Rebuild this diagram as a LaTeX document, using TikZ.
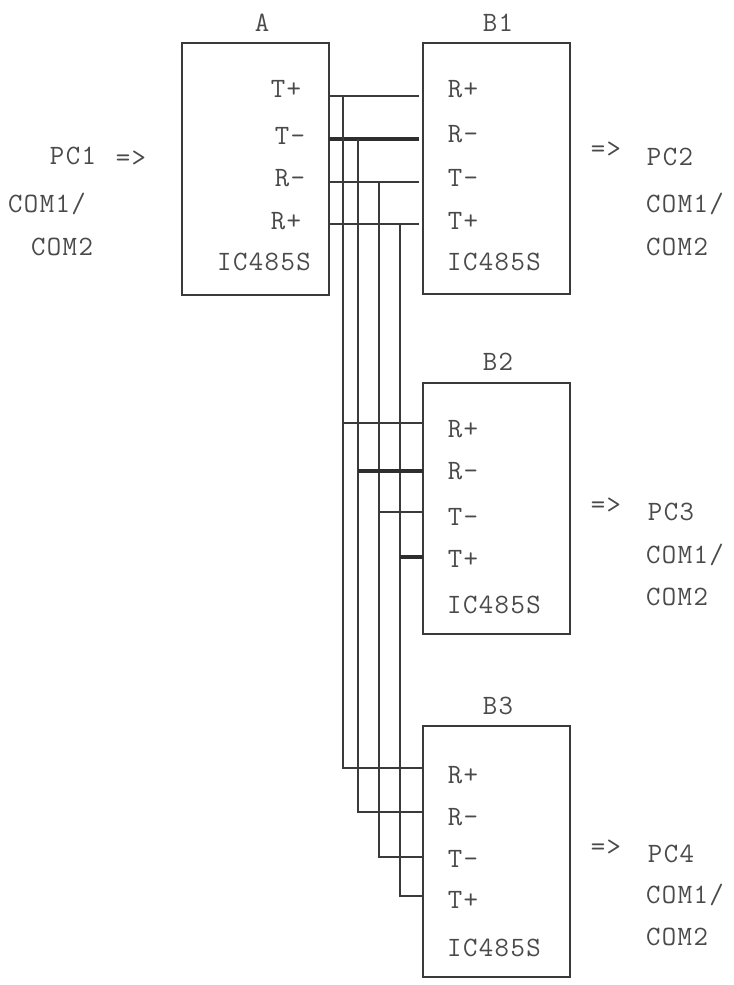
\documentclass[tikz,border=0pt]{standalone}
\usepackage{fontspec}
\setmonofont[LetterSpace=5]{Latin Modern Mono}
\definecolor{ink}{HTML}{3A3A3A}
\definecolor{txt}{HTML}{4A4A4A}
\tikzset{
  x=0.75pt,y=-0.75pt,
  box/.style={draw=ink,line width=2pt,line join=miter,fill=none},
  wire/.style={draw=ink,line width=1.8pt,line join=miter},
  fat/.style={draw=ink!80!black,line width=3.2pt},
  lbl/.style={inner sep=0pt,text=txt,font=\ttfamily\fontsize{21}{21}\selectfont,text height=13pt,text depth=0pt},
}
\begin{document}
\begin{tikzpicture}
\useasboundingbox (0,0) rectangle (734,985);
% boxes
\draw[box] (182,43) rectangle (329,295);
\draw[box] (423,43) rectangle (570,294);
\draw[box] (423,383) rectangle (570,634);
\draw[box] (423,726) rectangle (570,977);
% outlets of A and inlets
\coordinate (a1) at (329,96);
\coordinate (a2) at (329,139);
\coordinate (a3) at (329,182);
\coordinate (a4) at (329,224);
\coordinate (b11) at (419,96);
\coordinate (b12) at (419,139);
\coordinate (b13) at (419,182);
\coordinate (b14) at (419,224);
\coordinate (v1t) at (343,96);
\coordinate (v2t) at (358,139);
\coordinate (v3t) at (379,182);
\coordinate (v4t) at (400,224);
\coordinate (v1b) at (343,768);
\coordinate (v2b) at (358,812);
\coordinate (v3b) at (379,857);
\coordinate (v4b) at (400,896);
\coordinate (b31) at (423,768);
\coordinate (b32) at (423,812);
\coordinate (b33) at (423,857);
\coordinate (b34) at (423,896);
\coordinate (j1) at (343,423);
\coordinate (j2) at (358,471);
\coordinate (j3) at (379,512);
\coordinate (j4) at (400,557);
\coordinate (b21) at (423,423);
\coordinate (b22) at (423,471);
\coordinate (b23) at (423,512);
\coordinate (b24) at (423,557);
% wires
\draw[wire] (a1) -- (b11);
\draw[fat] (a2) -- (b12);
\draw[wire] (a3) -- (b13);
\draw[wire] (a4) -- (b14);
\draw[wire] (v1t) -- (v1b) -- (b31);
\draw[wire] (v2t) -- (v2b) -- (b32);
\draw[wire] (v3t) -- (v3b) -- (b33);
\draw[wire] (v4t) -- (v4b) -- (b34);
\draw[wire] (j1) -- (b21);
\draw[fat] (j2) -- (b22);
\draw[wire] (j3) -- (b23);
\draw[fat] (j4) -- (b24);
% titles
\node[lbl] (ta) at (262,23) {A};
\node[lbl] (tb1) at (498,23) {B1};
\node[lbl] (tb2) at (498,362) {B2};
\node[lbl] (tb3) at (498,706) {B3};
% A
\node[lbl] (a1t) at (286,89) {T+};
\node[lbl] (a2t) at (290,136) {T-};
\node[lbl] (a3t) at (290,178) {R-};
\node[lbl] (a4t) at (286,221) {R+};
\node[lbl] (aic) at (264,262) {IC485S};
% B1
\node[lbl] (b1a) at (463,89) {R+};
\node[lbl] (b1b) at (463,134) {R-};
\node[lbl] (b1c) at (463,178) {T-};
\node[lbl] (b1d) at (463,221) {T+};
\node[lbl] (b1ic) at (494,262) {IC485S};
% B2
\node[lbl] (b2a) at (463,429) {R+};
\node[lbl] (b2b) at (463,471) {R-};
\node[lbl] (b2c) at (463,517) {T-};
\node[lbl] (b2d) at (463,559) {T+};
\node[lbl] (b2ic) at (494,605) {IC485S};
% B3
\node[lbl] (b3a) at (463,775) {R+};
\node[lbl] (b3b) at (463,817) {R-};
\node[lbl] (b3c) at (463,859) {T-};
\node[lbl] (b3d) at (463,900) {T+};
\node[lbl] (b3ic) at (494,948) {IC485S};
% left
\node[lbl] (pc1) at (73,156) {PC1};
\node[lbl] (ar1) at (131,158) {=>};
\node[lbl] (c1a) at (47,204) {COM1/};
\node[lbl] (c1b) at (62,247) {COM2};
% right
\node[lbl] (ar2) at (606,149) {=>};
\node[lbl] (pc2) at (670,157) {PC2};
\node[lbl] (c2a) at (685,204) {COM1/};
\node[lbl] (c2b) at (677,247) {COM2};
\node[lbl] (ar3) at (606,505) {=>};
\node[lbl] (pc3) at (671,512) {PC3};
\node[lbl] (c3a) at (685,555) {COM1/};
\node[lbl] (c3b) at (677,597) {COM2};
\node[lbl] (ar4) at (606,847) {=>};
\node[lbl] (pc4) at (671,854) {PC4};
\node[lbl] (c4a) at (685,895) {COM1/};
\node[lbl] (c4b) at (677,937) {COM2};
\end{tikzpicture}
\end{document}
